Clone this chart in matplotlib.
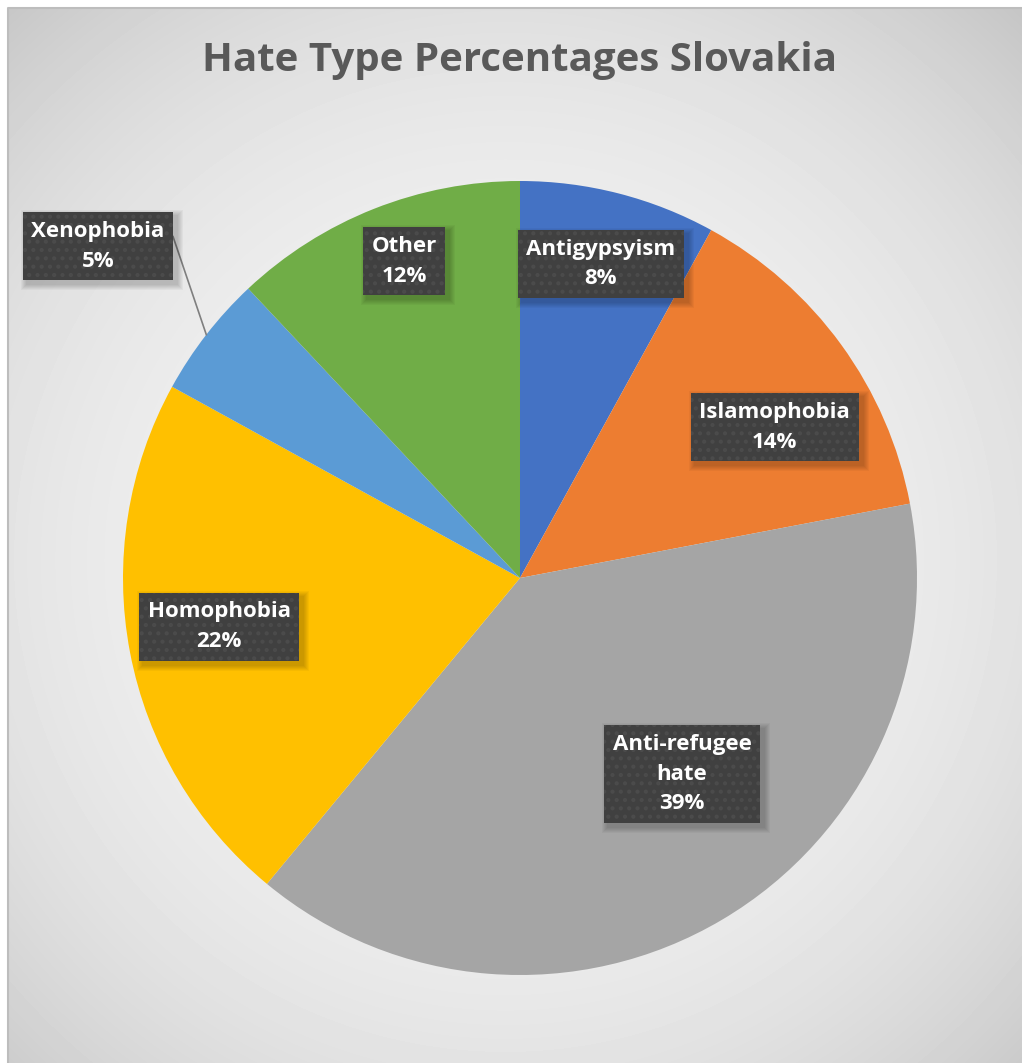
import numpy as np
import matplotlib
matplotlib.use("Agg")
import matplotlib.pyplot as plt
from matplotlib.patches import Rectangle
from matplotlib.transforms import IdentityTransform

categories = ["Antigypsyism", "Islamophobia", "Anti-refugee\nhate", "Homophobia", "Xenophobia", "Other"]
percentages = [8, 14, 39, 22, 5, 12]
colors = ["#4472C4", "#ED7D31", "#A5A5A5", "#FFC000", "#5B9BD5", "#70AD47"]

# label box centres in pie coordinates (radius = 1)
label_pos = [(0.204, 0.791), (0.642, 0.380), (0.408, -0.494),
             (-0.758, -0.123), (-1.063, 0.836), (-0.292, 0.798)]

W, H = 1022, 1063
fig = plt.figure(figsize=(W / 100, H / 100), dpi=100)

# radial grey background
bg = fig.add_axes([0, 0, 1, 1])
yy, xx = np.mgrid[0:H, 0:W]
d = np.hypot(xx - 505, yy - 560) / 760
d = np.clip(d, 0, 1)
shade = 0.95 - 0.18 * d ** 2.7
bg.imshow(shade, cmap="gray", vmin=0, vmax=1, extent=[0, W, H, 0], aspect="auto")
bg.add_patch(Rectangle((0, 0), 7, H, color="white"))
bg.add_patch(Rectangle((0, 0), W, 7, color="white"))
bg.plot([7.5, 7.5, W], [H, 7.5, 7.5], color="#bdbdbd", lw=1.5)
bg.set_xlim(0, W)
bg.set_ylim(H, 0)
bg.axis("off")

fig.text(520 / W, 1 - 61 / H, "Hate Type Percentages Slovakia", ha="center", va="center",
         fontsize=29, fontweight="bold", color="#595959", family="Open Sans")

# pie: centre (520, 578) px, radius 397 px
cx, cy, r = 520, 578, 397
ax = fig.add_axes([(cx - r) / W, 1 - (cy + r) / H, 2 * r / W, 2 * r / H])
ax.pie(percentages, colors=colors, startangle=90, counterclock=False, radius=1,
       wedgeprops=dict(linewidth=0))
ax.set_xlim(-1, 1)
ax.set_ylim(-1, 1)
ax.set_aspect("auto")

# leader line for the small slice
theta = np.deg2rad(90 - 360 * (sum(percentages[:4]) + percentages[4] / 2) / 100)
ax.plot([-0.874, np.cos(theta) * 1.0], [0.860, np.sin(theta) * 1.0],
        color="#7f7f7f", lw=1.2, zorder=3, clip_on=False)

plt.rcParams["hatch.linewidth"] = 1.8
labels = []
for name, pct, (x, y) in zip(categories, percentages, label_pos):
    t = ax.text(x, y, f"{name}\n{pct}%", ha="center", va="center", fontsize=16,
                fontweight="bold", family="Open Sans", color="white", linespacing=1.55,
                bbox=dict(boxstyle="square,pad=0.38", facecolor="#404040",
                          edgecolor="#4b4b4b", hatch="..", linewidth=0),
                zorder=5, clip_on=False)
    labels.append(t)

# soft drop shadows behind the label boxes (pixel coordinates)
fig.canvas.draw()
for t in labels:
    ext = t.get_bbox_patch().get_window_extent()
    for g in range(6, 0, -1):
        ax.add_patch(Rectangle((ext.x0 + 4 - g, ext.y0 - 4 - g),
                               ext.width + 2 * g, ext.height + 2 * g,
                               transform=IdentityTransform(), facecolor="black",
                               alpha=0.035, edgecolor="none", zorder=4, clip_on=False))

fig.savefig("out.png", dpi=100)
